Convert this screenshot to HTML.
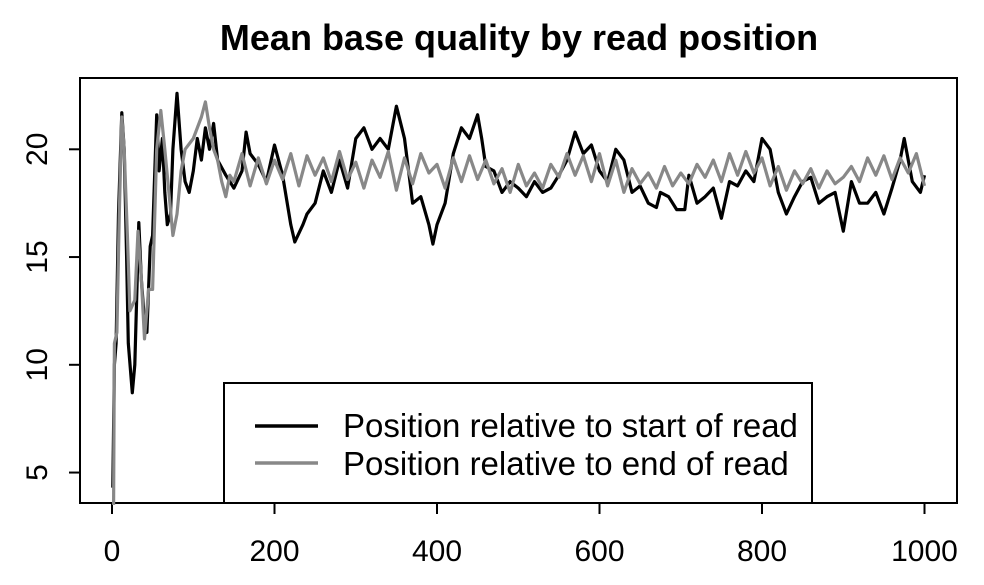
<!DOCTYPE html>
<html><head><meta charset="utf-8"><style>
body{margin:0;background:#fff}
svg{display:block;font-family:"Liberation Sans",Arial,sans-serif}
</style></head><body>
<svg id="chart" width="984" height="585">
<text x="519" y="50" text-anchor="middle" font-size="36" font-weight="bold">Mean base quality by read position</text>
<rect x="80" y="78" width="877" height="425" fill="none" stroke="#000" stroke-width="2"/>
<g id="axes"></g>
<g id="series"></g>
<g>
<rect x="224" y="383" width="588" height="120" fill="#fff" stroke="#000" stroke-width="2"/>
<line x1="255" y1="426" x2="318" y2="426" stroke="#000" stroke-width="3.5"/>
<text x="343" y="437" font-size="33">Position relative to start of read</text>
<line x1="255" y1="463" x2="318" y2="463" stroke="#888" stroke-width="3.5"/>
<text x="343" y="475" font-size="33">Position relative to end of read</text>
</g>
</svg>
<script>
const xTicks=[0,200,400,600,800,1000];
const yTicks=[5,10,15,20];
const startX=[1,3,5,8,12,15,18,20,25,28,33,36,40,43,47,50,55,58,62,65,68,72,75,80,85,90,95,100,105,110,115,120,125,130,140,150,160,165,170,180,190,200,210,220,225,235,240,250,260,270,280,290,300,310,320,330,340,350,360,365,370,380,390,395,400,410,420,430,440,450,455,460,470,480,490,500,510,520,530,540,550,560,570,580,590,600,610,620,630,640,650,660,670,675,685,695,705,710,720,730,740,750,760,770,780,790,800,810,820,830,840,850,860,870,880,890,900,910,920,930,940,950,960,970,975,985,995,1000];
const startY=[4.3,10,11,17,21.7,20,15,11,8.7,10,16.6,14,12,11.5,15.5,16,21.6,19,20.5,18,16.5,17,20,22.6,20,18.5,18,19,20.5,19.5,21,20,21.2,19.5,18.8,18.2,19,20.8,19.8,19.3,18.5,20.2,18.8,16.5,15.7,16.5,17,17.5,19,18,19.5,18.2,20.5,21,20,20.5,20,22,20.5,19,17.5,17.8,16.5,15.6,16.5,17.5,19.8,21,20.5,21.6,20.5,19.2,19,18,18.5,18.2,17.8,18.5,18,18.2,18.8,19.5,20.8,19.8,20.2,19,18.5,20,19.5,18,18.3,17.5,17.3,18,17.8,17.2,17.2,18.8,17.5,17.8,18.2,16.8,18.5,18.3,19,18.5,20.5,20,18,17,17.8,18.5,18.7,17.5,17.8,18,16.2,18.5,17.5,17.5,18,17,18.2,19.5,20.5,18.5,18,18.8];
const endX=[2,3,6,9,12,15,19,22,28,32,36,40,45,50,55,60,65,70,75,80,85,90,100,110,115,120,125,130,135,140,145,150,160,170,180,190,200,210,220,230,240,250,260,270,280,290,300,310,320,330,340,350,360,370,380,390,400,410,420,430,440,450,460,470,480,490,500,510,520,530,540,550,560,570,580,590,600,610,620,630,640,650,660,670,680,690,700,710,720,730,740,750,760,770,780,790,800,810,820,830,840,850,860,870,880,890,900,910,920,930,940,950,960,970,980,990,1000];
const endY=[3.5,11,11.5,17,21.5,20,16,12.5,13,16.2,14,11.2,13.5,13.5,20,21.8,20,18,16,17,19,20,20.5,21.5,22.2,21,20,19.5,18.5,17.8,18.8,18.5,19.8,18.3,19.6,18.4,19.5,18.6,19.8,18.3,19.7,18.8,19.6,18.5,19.9,18.6,19.4,18.2,19.5,18.7,19.9,18.1,19.6,18.4,19.8,18.9,19.3,18.2,19.6,18.5,19.7,18.6,19.5,18.4,19.1,18.0,19.3,18.3,18.9,18.2,19.3,18.7,19.8,18.8,19.7,18.5,19.8,18.3,19.5,18.0,19.1,18.4,18.9,18.2,19.2,18.3,18.9,18.4,19.3,18.7,19.5,18.5,19.8,18.8,19.9,18.9,19.6,18.3,19.2,18.1,19.0,18.4,19.1,18.2,19.0,18.4,18.7,19.2,18.5,19.6,18.8,19.7,18.6,19.6,18.9,19.8,18.3];
const NS='http://www.w3.org/2000/svg';
function sx(v){return 112+v*0.8125;}
function sy(v){return 149.3+(20-v)*21.55;}
const axes=document.getElementById('axes');
function mk(tag,attrs,parent){const e=document.createElementNS(NS,tag);for(const k in attrs)e.setAttribute(k,attrs[k]);parent.appendChild(e);return e;}
const xa=mk('line',{x1:sx(0),x2:sx(1000),y1:503,y2:503,stroke:'#000','stroke-width':2},axes);


xTicks.forEach(t=>{
  const l=mk('line',{x1:sx(t),x2:sx(t),y1:503,y2:514,stroke:'#000','stroke-width':2},axes);
  
  
  const tx=mk('text',{x:sx(t),y:561,'text-anchor':'middle','font-size':30},axes);
  tx.textContent=t;
  
  
});
const ya=mk('line',{x1:80,x2:80,y1:sy(5),y2:sy(20),stroke:'#000','stroke-width':2},axes);


yTicks.forEach(t=>{
  const l=mk('line',{x1:69,x2:80,y1:sy(t),y2:sy(t),stroke:'#000','stroke-width':2},axes);
  
  
  const tx=mk('text',{x:0,y:0,'text-anchor':'middle','font-size':30,transform:'translate(47,'+sy(t)+') rotate(-90)'},axes);
  tx.textContent=t;
  
  
});
const sg=document.getElementById('series');
function line(xs,ys,col,name){
  const d=xs.map((x,i)=>(i?'L':'M')+sx(x).toFixed(1)+' '+sy(ys[i]).toFixed(1)).join(' ');
  const p=mk('path',{d:d,fill:'none',stroke:col,'stroke-width':3.2,'stroke-linejoin':'round'},sg);
  
  
}
line(startX,startY,'#000','series-start-of-read');
line(endX,endY,'#888','series-end-of-read');
</script>
</body></html>
